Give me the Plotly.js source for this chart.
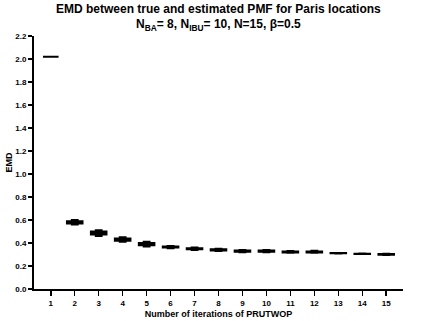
<!DOCTYPE html>
<html>
<head>
<meta charset="utf-8">
<script src="https://cdn.plot.ly/plotly-3.0.1.min.js"></script>
<style>
  html, body { margin: 0; padding: 0; background: #fff; }
  #plot { width: 423px; height: 321px; }
</style>
</head>
<body>
<div id="plot"></div>
<script>
// iterations of PRUTWOP
const iterations = [1, 2, 3, 4, 5, 6, 7, 8, 9, 10, 11, 12, 13, 14, 15]

// box statistics
const lowerWhisker = [2.02, 0.56, 0.46, 0.41, 0.37, 0.355, 0.34, 0.33, 0.32, 0.32, 0.315, 0.315, 0.308, 0.304, 0.295]
const q1Values     = [2.02, 0.57, 0.475, 0.42, 0.38, 0.36, 0.345, 0.335, 0.325, 0.325, 0.318, 0.318, 0.310, 0.305, 0.298]
const medianValues = [2.02, 0.58, 0.485, 0.43, 0.39, 0.365, 0.35, 0.34, 0.33, 0.33, 0.322, 0.322, 0.311, 0.306, 0.302]
const q3Values     = [2.02, 0.59, 0.50, 0.44, 0.40, 0.37, 0.355, 0.345, 0.335, 0.335, 0.326, 0.326, 0.312, 0.307, 0.305]
const upperWhisker = [2.02, 0.60, 0.51, 0.45, 0.41, 0.375, 0.36, 0.35, 0.34, 0.34, 0.33, 0.332, 0.313, 0.308, 0.307]

const yTicks = [0, 0.2, 0.4, 0.6, 0.8, 1.0, 1.2, 1.4, 1.6, 1.8, 2.0, 2.2]

const titleLine1 = 'EMD between true and estimated PMF for Paris locations'
const titleLine2 = 'N<sub>BA</sub>= 8, N<sub>IBU</sub>= 10, N=15, β=0.5'

const fontFam = 'Liberation Sans, Arial, sans-serif'

const trace = {
  type: 'box',
  x: iterations,
  lowerfence: lowerWhisker,
  q1: q1Values,
  median: medianValues,
  q3: q3Values,
  upperfence: upperWhisker,
  fillcolor: '#ffffff',
  line: {color: '#000000', width: 2},
  whiskerwidth: 0.5,
  width: 0.65,
  boxpoints: false,
  hoverinfo: 'skip'
}

const titleFont = {family: fontFam, size: 12, color: '#000', weight: 'bold'}

var layout = {
  width: 423,
  height: 321,
  margin: {l: 34, r: 20, t: 36, b: 32},
  showlegend: false,
  annotations: [
    {text: titleLine1, xref: 'paper', yref: 'paper', x: 0.5, y: 1.105, xanchor: 'center', yanchor: 'middle', showarrow: false, font: titleFont},
    {text: titleLine2, xref: 'paper', yref: 'paper', x: 0.5, y: 1.045, xanchor: 'center', yanchor: 'middle', showarrow: false, font: titleFont}
  ],
  xaxis: {
    range: [0.3, 15.7],
    tickvals: iterations,
    ticktext: iterations.map(String),
    showgrid: false,
    zeroline: false,
    showline: true,
    linecolor: '#000',
    linewidth: 2,
    ticks: 'outside',
    ticklen: 5,
    tickwidth: 1.5,
    tickcolor: '#000',
    tickfont: {family: fontFam, size: 8, color: '#000', weight: 'bold'},
    title: {
      text: 'Number of iterations of PRUTWOP',
      font: {family: fontFam, size: 9, color: '#000', weight: 'bold'},
      standoff: 4
    }
  },
  yaxis: {
    range: [0, 2.2],
    tickvals: yTicks,
    tickformat: '.1f',
    showgrid: false,
    zeroline: false,
    showline: true,
    linecolor: '#000',
    linewidth: 2,
    ticks: 'outside',
    ticklen: 4,
    tickwidth: 1.5,
    tickcolor: '#000',
    tickfont: {family: fontFam, size: 8, color: '#000', weight: 'bold'},
    title: {
      text: 'EMD',
      font: {family: fontFam, size: 9, color: '#000', weight: 'bold'},
      standoff: 1
    }
  },
  paper_bgcolor: '#ffffff',
  plot_bgcolor: '#ffffff'
}

Plotly.newPlot('plot', [trace], layout, {staticPlot: true})
</script>
</body>
</html>
